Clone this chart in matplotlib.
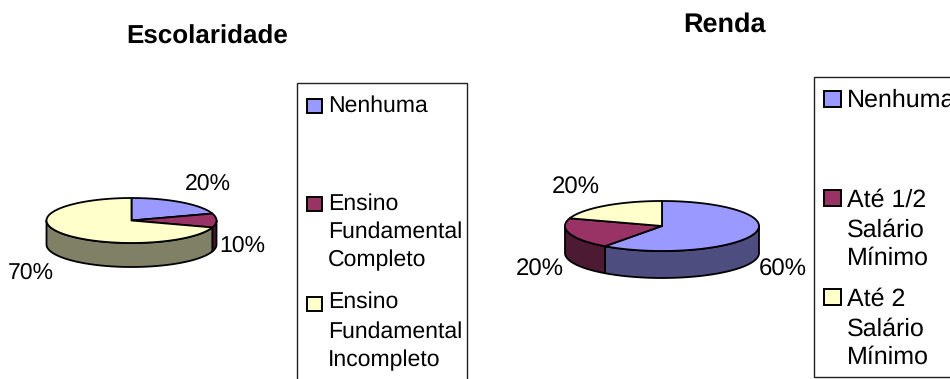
"""Dois graficos de pizza 3D: escolaridade e renda."""
import numpy as np
import matplotlib
matplotlib.use("Agg")
import matplotlib.pyplot as plt
from matplotlib.patches import Polygon, Rectangle

plt.rcParams["font.family"] = ["Liberation Sans", "DejaVu Sans"]
plt.rcParams["text.hinting"] = "none"
plt.rcParams["text.hinting_factor"] = 1

W, H = 950, 379
COLORS = ["#9999FF", "#993366", "#FFFFCC"]
SIDES = ["#4D4D80", "#4D1A33", "#808066"]

esc_title = "Escolaridade"
esc_values = [20, 10, 70]
esc_labels = ["Nenhuma", "Ensino\nFundamental\nCompleto", "Ensino\nFundamental\nIncompleto"]

renda_title = "Renda"
renda_values = [60, 20, 20]
renda_labels = ["Nenhuma", "Até 1/2\nSalário\nMínimo", "Até 2\nSalário\nMínimo"]

FONT_ESC = 16.8
FONT_RENDA = 17.4
FONT_RENDA_LEG = 18.0
LW = 1.3


def arc(cx, cy, rx, ry, a0, a1, dy=0):
    # angulos em graus, horario a partir do topo
    a = np.radians(np.linspace(a0, a1, max(int(abs(a1 - a0)), 2)))
    return np.column_stack([cx + rx * np.sin(a), cy + dy - ry * np.cos(a)])


def pie3d(ax, values, cx, cy, rx, ry, depth):
    edges = np.cumsum([0] + list(values)) / sum(values) * 360
    # parede lateral: so a metade da frente aparece
    for i in range(len(values)):
        a0, a1 = max(edges[i], 90), min(edges[i + 1], 270)
        if a0 < a1:
            top = arc(cx, cy, rx, ry, a0, a1)
            bottom = arc(cx, cy, rx, ry, a0, a1, depth)
            ax.add_patch(Polygon(np.vstack([top, bottom[::-1]]), fc=SIDES[i],
                                 ec="black", lw=LW, joinstyle="round"))
    # tampa
    for i in range(len(values)):
        pts = np.vstack([[cx, cy], arc(cx, cy, rx, ry, edges[i], edges[i + 1])])
        ax.add_patch(Polygon(pts, fc=COLORS[i], ec="black", lw=LW, joinstyle="round"))


def legend(ax, box, labels, swatches, text_x, baselines, size):
    x0, y0, x1, y1 = box
    ax.add_patch(Rectangle((x0, y0), x1 - x0, y1 - y0, fc="white", ec="#222222", lw=1.0))
    for i, lab in enumerate(labels):
        sx, sy, sw, sh = swatches[i]
        ax.add_patch(Rectangle((sx, sy), sw, sh, fc=COLORS[i], ec="black", lw=1.4))
        for line, yb in zip(lab.split("\n"), baselines[i]):
            ax.text(text_x, yb, line, fontsize=size, va="baseline", ha="left")


fig = plt.figure(figsize=(W / 100, H / 100), dpi=100)
ax = fig.add_axes([0, 0, 1, 1])
ax.set_xlim(0, W)
ax.set_ylim(H, 0)
ax.axis("off")

# Escolaridade
ax.text(207.5, 44, esc_title, fontsize=18.4, fontweight="bold", ha="center", va="baseline")
pie3d(ax, esc_values, 131.5, 220.5, 85, 22.5, 24)
for v, x, y in zip(esc_values, [208, 242, 31], [190, 252, 279]):
    ax.text(x, y, f"{v}%", fontsize=FONT_ESC, ha="center", va="baseline")
legend(ax, (297, 83, 467, 395), esc_labels,
       [(307, 99, 15, 14), (307, 197, 15, 14), (307, 297, 15, 14)], 328,
       [[112], [210, 238, 266], [308, 338, 366]], FONT_ESC)

# Renda
ax.text(724, 32, renda_title, fontsize=19.5, fontweight="bold", ha="center", va="baseline")
pie3d(ax, renda_values, 662, 226, 97, 25, 27)
for v, x, y in zip(renda_values, [783, 540, 576], [276, 276, 194]):
    ax.text(x, y, f"{v}%", fontsize=FONT_RENDA, ha="center", va="baseline")
legend(ax, (814, 77, 970, 377), renda_labels,
       [(824, 91, 17, 16), (824, 190, 17, 16), (824, 289, 17, 16)], 847,
       [[107], [207, 237, 265], [306, 336, 364]], FONT_RENDA_LEG)

fig.savefig("out.png", dpi=100)
